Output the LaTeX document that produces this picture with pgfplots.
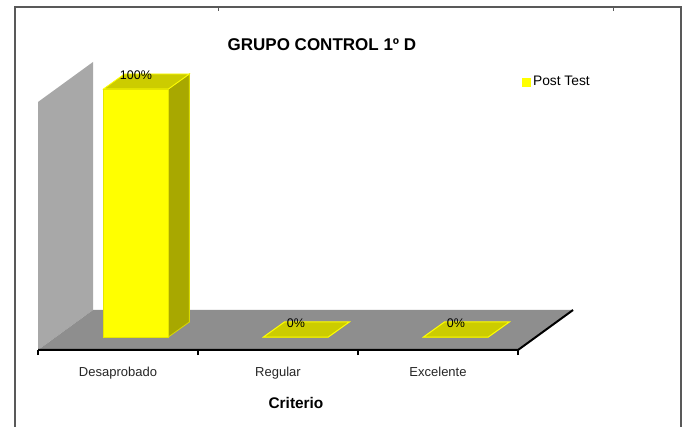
\documentclass[border=0pt]{standalone}
\usepackage{pgfplots}
\pgfplotsset{compat=1.18}
\usepackage{pgfplotstable}
\usepackage{fontspec}
\setmainfont{Liberation Sans}
\definecolor{barY}{HTML}{FFFF00}
\definecolor{barTop}{HTML}{CCCC00}
\definecolor{barSide}{HTML}{A8A800}
\definecolor{wallG}{HTML}{A8A8A8}
\definecolor{floorG}{HTML}{8E8E8E}

\pgfplotstableread{
x v
0.612 100
1.612 0
2.612 0
}\datatab

\begin{document}
\begin{tikzpicture}
\useasboundingbox (-19pt,-38.5pt) rectangle (328pt,175pt);
\fill[white] (-19pt,-38.5pt) rectangle (328pt,175pt);
\draw[line width=0.6pt, color=black!65] (-11.5pt,-45pt) -- (-11.5pt,171.5pt) -- (321.5pt,171.5pt) -- (321.5pt,-45pt);
\draw[line width=0.5pt, color=black!65] (90pt,171.5pt) -- (90pt,169.5pt) (287.5pt,171.5pt) -- (287.5pt,169.5pt);
\begin{axis}[
  x=80pt, y=1.24pt,
  xmin=0, xmax=3.5, ymin=-5.24, ymax=115,
  clip=false,
  axis line style={draw=none},
  ytick=\empty,
  xtick={0.5,1.5,2.5},
  xticklabels={Desaprobado,Regular,Excelente},
  major tick length=0pt,
  xtick pos=bottom,
  tick align=outside,
  extra x ticks={0,1,2,3},
  extra x tick labels={},
  extra x tick style={major tick length=2.5pt, tick style={black, line width=0.6pt}},
  xticklabel style={font=\fontsize{6.5}{7}\selectfont, text=black!85, yshift=-5pt},
  xlabel={Criterio},
  xlabel style={font=\bfseries\fontsize{7.7}{8}\selectfont, at={(axis description cs:0.4607,-0.1576)}, anchor=north, inner sep=0pt},
  title={GRUPO CONTROL 1º D},
  title style={font=\bfseries\fontsize{8.5}{9}\selectfont, at={(axis description cs:0.507,1.0497)}, anchor=north, inner sep=0pt, yshift=-6.5pt},
  legend style={at={(axis description cs:0.864,0.899)}, anchor=west, draw=none, fill=none, inner sep=0pt, font=\fontsize{6.9}{7}\selectfont, nodes={inner sep=1pt}},
]
% back wall
\addplot[fill=wallG, draw=none, forget plot] coordinates {(0,-5.24) (0,94.76) (0.344,110.89) (0.344,10.89)} --cycle;
% floor
\addplot[fill=floorG, draw=none, forget plot] coordinates {(0,-5.24) (3,-5.24) (3.344,10.89) (0.344,10.89)} --cycle;
\addplot[black, line width=1pt, forget plot] coordinates {(0,-5.24) (3,-5.24) (3.344,10.89)};
% zero bars (top faces)
\addplot[fill=barTop, draw=barY, line width=0.5pt, forget plot] coordinates {(1.409,0) (1.815,0) (1.946,6.05) (1.540,6.05)} --cycle;
\addplot[fill=barTop, draw=barY, line width=0.5pt, forget plot] coordinates {(2.409,0) (2.815,0) (2.946,6.05) (2.540,6.05)} --cycle;
% 100% bar side and top
\addplot[fill=barSide, draw=barY!85!black, line width=0.4pt, forget plot] coordinates {(0.815,0) (0.946,6.05) (0.946,106.05) (0.815,100)} --cycle;
\addplot[fill=barTop, draw=barY, line width=0.4pt, forget plot] coordinates {(0.409,100) (0.815,100) (0.946,106.05) (0.540,106.05)} --cycle;
% front faces
\addplot[ybar, bar width=0.406, fill=barY, draw=barY!90!black, line width=0.4pt,
  legend image code/.code={\fill[barY] (0pt,-2pt) rectangle (4pt,2pt);},
  nodes near coords={\pgfmathprintnumber[assume math mode=true]{\pgfplotspointmeta}\%},
  every node near coord/.append style={anchor=south, inner sep=0pt, yshift=4.5pt, font=\fontsize{6.25}{7}\selectfont, text=black}]
  table[x=x, y=v] {\datatab};
\addlegendentry{Post Test}
\end{axis}
\end{tikzpicture}
\end{document}
